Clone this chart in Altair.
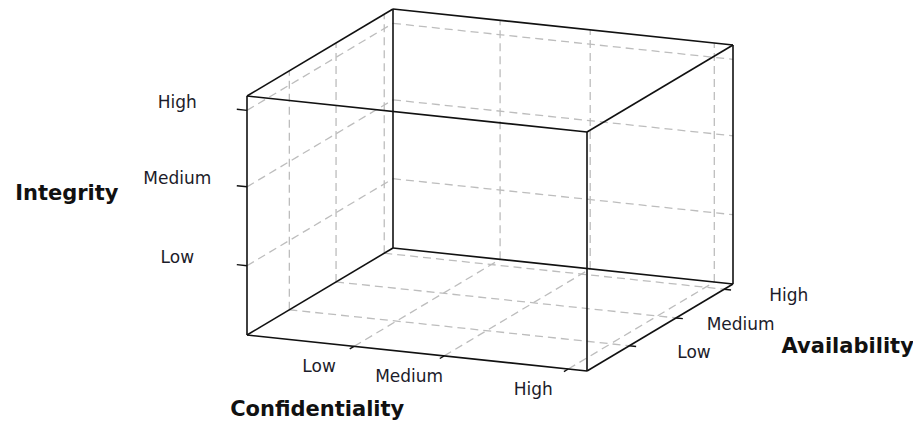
import altair as alt
import pandas as pd

# ---- chart content -------------------------------------------------------
conf_labels = ["Low", "Medium", "High"]
conf_pos = [0.315, 0.58, 0.945]
avail_labels = ["Low", "Medium", "High"]
avail_pos = [0.29, 0.61, 0.94]
integ_labels = ["Low", "Medium", "High"]
integ_pos = [0.29, 0.62, 0.94]
axis_titles = ["Confidentiality", "Availability", "Integrity"]

# ---- oblique 3D projection (screen pixels of the page) -------------------
OX, OY = 247, 335          # origin corner of the box
VC = (340, 36)             # confidentiality direction
VA = (146, -87)            # availability (depth) direction
VI = (0, -239)             # integrity (vertical) direction

W, H = 905, 414            # drawing area (fits the window with 8px margins)

# ---- segments in 3D ------------------------------------------------------
segs = []


def seg(kind, p, q):
    segs.append(dict(kind=kind, c1=p[0], a1=p[1], i1=p[2],
                     c2=q[0], a2=q[1], i2=q[2]))


corners = [(c, a, i) for c in (0, 1) for a in (0, 1) for i in (0, 1)]
for p in corners:
    for q in corners:
        if p < q and sum(abs(u - v) for u, v in zip(p, q)) == 1:
            seg("edge", p, q)

# gridlines: back wall, left wall, floor
for c in conf_pos:
    seg("grid", (c, 1, 0), (c, 1, 1))
    seg("grid", (c, 0, 0), (c, 1, 0))
for i in integ_pos:
    seg("grid", (0, 1, i), (1, 1, i))
    seg("grid", (0, 0, i), (0, 1, i))
for a in avail_pos:
    seg("grid", (0, a, 0), (0, a, 1))
    seg("grid", (0, a, 0), (1, a, 0))

# tick marks
for i in integ_pos:
    seg("tick", (-0.03, 0, i), (0, 0, i))
for c in conf_pos:
    seg("tick", (c, -0.03, 0), (c, 0, 0))
for a in avail_pos:
    seg("tick", (1, a, 0), (1.02, a, 0))

seg_df = pd.DataFrame(segs)

# ---- text in 3D ----------------------------------------------------------
texts = []
for lab, i in zip(integ_labels, integ_pos):
    texts.append(dict(kind="label", text=lab, c=-0.205, a=0, i=i))
for lab, c in zip(conf_labels, conf_pos):
    texts.append(dict(kind="label", text=lab, c=c, a=-0.24, i=0))
for lab, a in zip(avail_labels, avail_pos):
    texts.append(dict(kind="label", text=lab, c=1.19, a=a, i=0))
texts.append(dict(kind="title", text=axis_titles[0], c=0.49, a=-0.66, i=0))
texts.append(dict(kind="title", text=axis_titles[1], c=1.552, a=0.5, i=0))
texts.append(dict(kind="title", text=axis_titles[2], c=-0.53, a=0, i=0.51))
text_df = pd.DataFrame(texts)


def px(c, a, i):
    return f"{OX} + {c}*{VC[0]} + {a}*{VA[0]} + {i}*{VI[0]}"


def py(c, a, i):
    return f"{OY} + {c}*{VC[1]} + {a}*{VA[1]} + {i}*{VI[1]}"


xs = alt.Scale(domain=[8, 8 + W], range=[0, W], nice=False, zero=False)
ys = alt.Scale(domain=[8, 8 + H], range=[0, H], nice=False, zero=False)

segbase = alt.Chart(seg_df).transform_calculate(
    px1=px("datum.c1", "datum.a1", "datum.i1"),
    py1=py("datum.c1", "datum.a1", "datum.i1"),
    px2=px("datum.c2", "datum.a2", "datum.i2"),
    py2=py("datum.c2", "datum.a2", "datum.i2"),
)
enc = dict(
    x=alt.X("px1:Q", scale=xs, axis=None),
    y=alt.Y("py1:Q", scale=ys, axis=None),
    x2="px2:Q",
    y2="py2:Q",
)

grid = segbase.transform_filter("datum.kind == 'grid'").mark_rule(
    color="#bdbdbd", strokeWidth=1.3, strokeDash=[8, 5]
).encode(**enc)
edges = segbase.transform_filter("datum.kind == 'edge'").mark_rule(
    color="#111111", strokeWidth=1.6
).encode(**enc)
ticks = segbase.transform_filter("datum.kind == 'tick'").mark_rule(
    color="#111111", strokeWidth=1.4
).encode(**enc)

textbase = alt.Chart(text_df).transform_calculate(
    tx=px("datum.c", "datum.a", "datum.i"),
    ty=py("datum.c", "datum.a", "datum.i"),
)
tenc = dict(
    x=alt.X("tx:Q", scale=xs, axis=None),
    y=alt.Y("ty:Q", scale=ys, axis=None),
    text="text:N",
)
labels = textbase.transform_filter("datum.kind == 'label'").mark_text(
    font="DejaVu Sans", fontSize=17, color="#1c1c2a",
    align="center", baseline="middle"
).encode(**tenc)
titles = textbase.transform_filter("datum.kind == 'title'").mark_text(
    font="DejaVu Sans", fontSize=21, fontWeight="bold", color="#111111",
    align="center", baseline="middle"
).encode(**tenc)

chart = alt.layer(grid, edges, ticks, labels, titles).properties(
    width=W, height=H, padding=0, background="white",
    autosize=alt.AutoSizeParams(type="none"),
).configure_view(strokeWidth=0, stroke="transparent")

chart.save("out.html", embed_options={"renderer": "svg", "actions": False})
